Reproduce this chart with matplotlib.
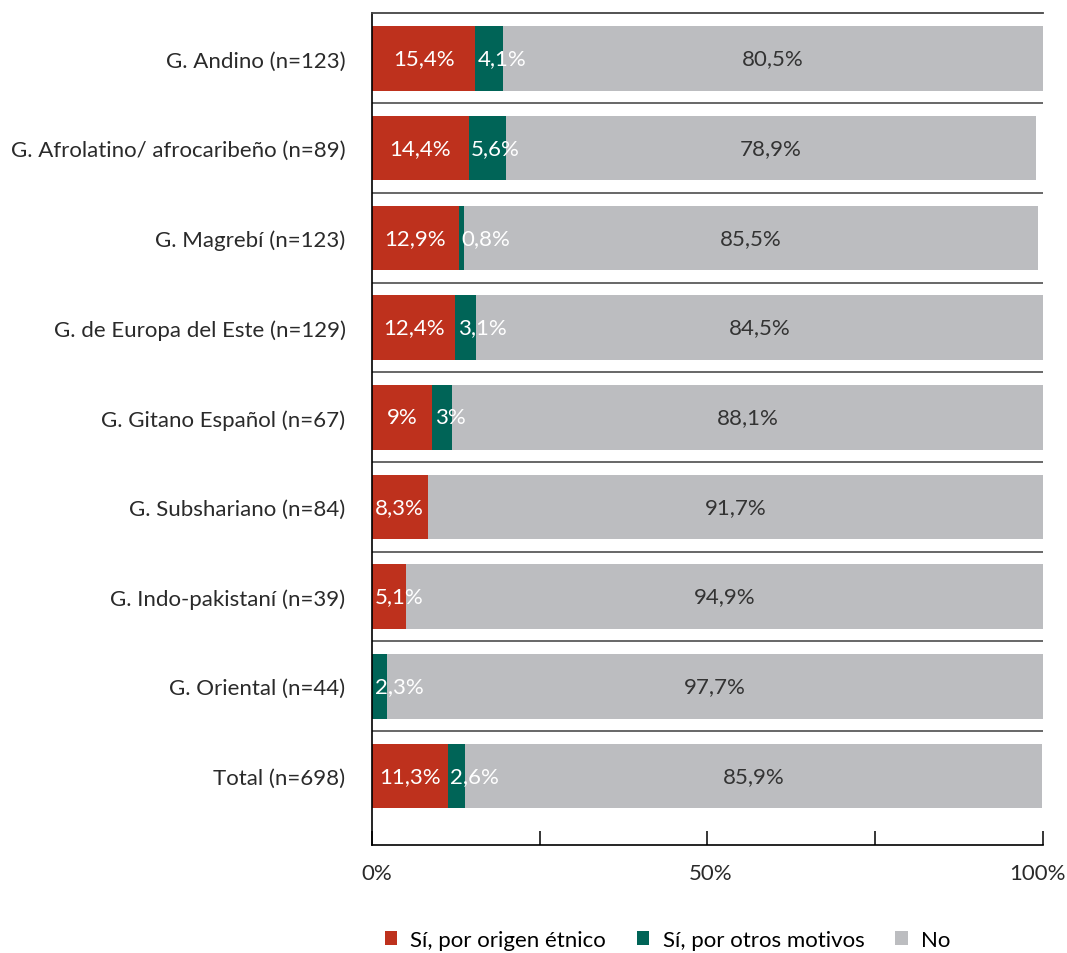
import matplotlib.pyplot as plt
from matplotlib.ticker import FixedLocator, NullFormatter
from matplotlib.transforms import ScaledTranslation

plt.rcParams['font.family'] = ['Lato', 'DejaVu Sans']

grupos = ['G. Andino (n=123)', 'G. Afrolatino/ afrocaribeño (n=89)', 'G. Magrebí (n=123)',
          'G. de Europa del Este (n=129)', 'G. Gitano Español (n=67)', 'G. Subshariano (n=84)',
          'G. Indo-pakistaní (n=39)', 'G. Oriental (n=44)', 'Total (n=698)']
si_etnico = [15.4, 14.4, 12.9, 12.4, 9.0, 8.3, 5.1, 0.0, 11.3]
si_otros = [4.1, 5.6, 0.8, 3.1, 3.0, 0.0, 0.0, 2.3, 2.6]
no = [80.5, 78.9, 85.5, 84.5, 88.1, 91.7, 94.9, 97.7, 85.9]
series = ['Sí, por origen étnico', 'Sí, por otros motivos', 'No']

colores = ['#BE311D', '#006457', '#BCBDC0']
color_texto = ['white', 'white', '#333333']
fs = 16


def etiqueta(v):
    return ('%g' % v).replace('.', ',') + '%'


fig = plt.figure(figsize=(10.67, 9.54), dpi=100)
ax = fig.add_axes([0.3486, 0.1132, 0.6289, 0.8721])

y = list(range(len(grupos)))
izq = [0.0] * len(grupos)
for valores, nombre, color, ct in zip([si_etnico, si_otros, no], series, colores, color_texto):
    ax.barh(y, valores, left=izq, height=0.72, color=color, label=nombre)
    for i, v in enumerate(valores):
        if v <= 0:
            continue
        if v < 6:
            # segmento estrecho: la etiqueta empieza en el borde izquierdo
            ax.text(izq[i] + 0.4, i, etiqueta(v), ha='left', va='center',
                    color=ct, fontsize=fs)
        else:
            ax.text(izq[i] + v / 2, i, etiqueta(v), ha='center', va='center',
                    color=ct, fontsize=fs)
    izq = [a + b for a, b in zip(izq, valores)]

# líneas separadoras entre grupos
for k in range(len(grupos) - 1):
    ax.axhline(k + 0.5, xmin=0, xmax=1, color='#5c5c5c', lw=1.3)

ax.set_xlim(0, 100)
ax.set_ylim(8.77, -0.507)

ax.spines['right'].set_visible(False)
ax.spines['top'].set_color('#444444')
ax.spines['top'].set_linewidth(1.3)
ax.spines['left'].set_linewidth(1.2)
ax.spines['bottom'].set_linewidth(1.2)

ax.set_yticks(y)
ax.set_yticklabels(grupos, fontsize=fs, color='#2a2a2a')
ax.tick_params(axis='y', length=0, pad=19)

ax.set_xticks([0, 50, 100])
ax.set_xticklabels(['0%', '50%', '100%'], fontsize=fs, color='#2a2a2a')
ax.xaxis.set_minor_locator(FixedLocator([25, 75]))
ax.xaxis.set_minor_formatter(NullFormatter())
ax.tick_params(axis='x', which='both', direction='in', length=10, width=1.1, pad=13)

# desplazar un poco las etiquetas de los extremos hacia dentro
for lbl, dx in zip(ax.get_xticklabels(), [5, 3, -6]):
    lbl.set_transform(lbl.get_transform() + ScaledTranslation(dx / 100, 0, fig.dpi_scale_trans))

fig.legend(loc='center', bbox_to_anchor=(0.6256, 0.0136), ncol=3, frameon=False,
           handlelength=0.55, handleheight=0.55, handletextpad=0.6,
           columnspacing=1.4, prop={'size': fs})

fig.savefig('out.png', dpi=100)
